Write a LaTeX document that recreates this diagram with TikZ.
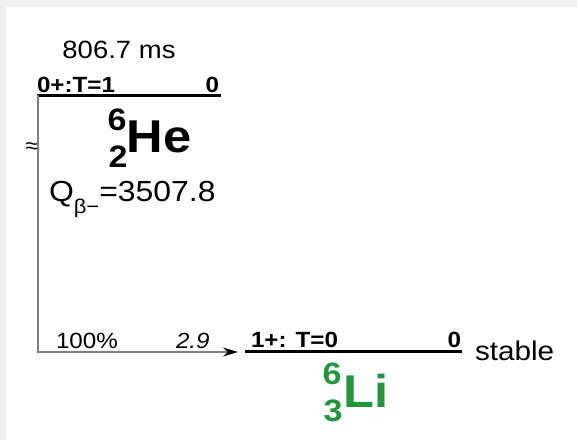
\documentclass[tikz,border=0pt]{standalone}
\usepackage{fontspec}
\setmainfont{Liberation Sans}[FakeStretch=1.1]
\usetikzlibrary{arrows.meta}
\definecolor{bggray}{HTML}{F0F0F0}
\definecolor{lvlgreen}{RGB}{34,150,60}
\definecolor{linegray}{RGB}{128,128,128}
\newcommand{\fs}[1]{\fontsize{#1}{#1}\selectfont}
\tikzset{
  txt/.style={inner sep=0pt, outer sep=0pt, anchor=base},
  lvl/.style={line width=3pt, black},
  lbl/.style={txt, font=\fs{22}\bfseries},
  conn/.style={linegray, line width=1.5pt},
}
\begin{document}
\begin{tikzpicture}[x=1pt,y=-1pt]
\useasboundingbox (0,0) rectangle (577,440);
\fill[white] (0,0) rectangle (577,440);
\fill[bggray] (0,0) rectangle (577,7);
\fill[bggray] (0,0) rectangle (6,440);

% parent level
\coordinate (tl) at (37,95);
\coordinate (tr) at (221,95);
\draw[lvl] (tl) -- (tr);
\node[lbl, anchor=base west] (tlab) at (37,92) {0+:T=1};
\node[lbl, anchor=base east] (tE) at (219,92) {0};
\node[txt, font=\fs{25}] (hl) at (119,58) {806.7 ms};

% parent nucleus
\node[txt, font=\fs{46}\bfseries] (He) at (159,152) {He};
\node[txt, font=\fs{31}\bfseries] (HeA) at (117,130) {6};
\node[txt, font=\fs{31}\bfseries] (HeZ) at (118,167) {2};
\node[txt, font=\fs{29}, anchor=base west] (Q) at (49,201) {Q\raisebox{-12pt}{\fs{20}β−}=3507.8};
\node[txt, font=\fs{22}] (approx) at (32,153) {≈};

% daughter level
\coordinate (bl) at (245,351);
\coordinate (br) at (462,351);
\draw[lvl] (bl) -- (br);
\node[lbl, anchor=base west] (blab) at (251,347) {1+: T=0};
\node[lbl, anchor=base east] (bE) at (461,347) {0};
\node[txt, font=\fs{27}, anchor=base west] (stable) at (475,360) {stable};

% daughter nucleus
\node[txt, font=\fs{46}\bfseries, lvlgreen] (Li) at (366,407) {Li};
\node[txt, font=\fs{31}\bfseries, lvlgreen] (LiA) at (332,384) {6};
\node[txt, font=\fs{31}\bfseries, lvlgreen] (LiZ) at (333,421) {3};

% decay branch
\coordinate (corner) at (38,352);
\coordinate (tip) at (238,352);
\draw[conn, -{Stealth[black,length=15pt,width=9pt]}] (38,95) -- (corner) -- (tip);
\node[txt, font=\fs{22}, anchor=base west] (br1) at (56,348) {100\%};
\node[txt, font=\fs{22}\itshape, anchor=base west] (lg) at (176,348) {2.9};
\end{tikzpicture}
\end{document}
